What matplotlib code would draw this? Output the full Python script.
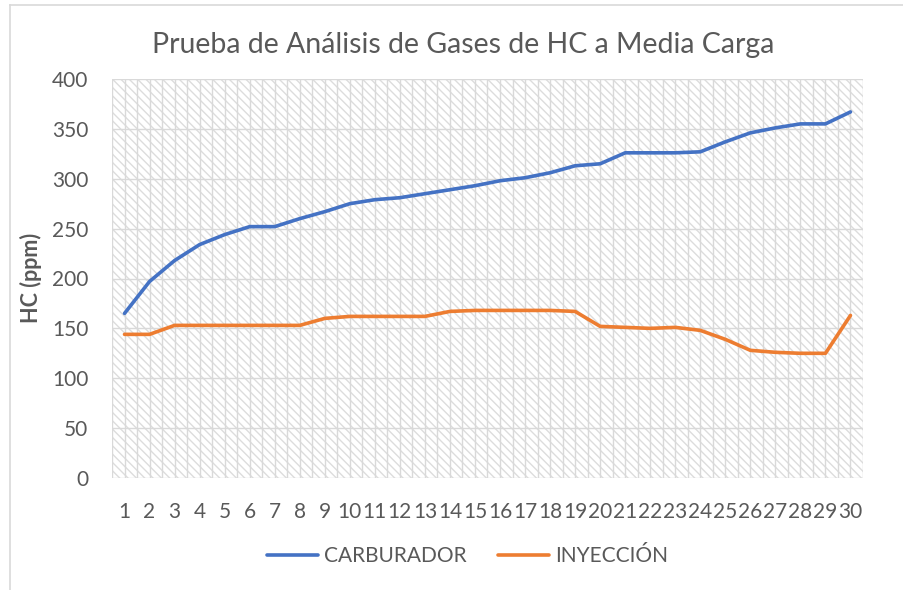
import matplotlib
matplotlib.use("Agg")
import matplotlib.pyplot as plt
from matplotlib.patches import Rectangle
from matplotlib.lines import Line2D

# ------------------ DATA ------------------
muestras = list(range(1, 31))
carburador = [165, 197, 218, 234, 244, 252, 252, 260, 267, 275,
              279, 281, 285, 289, 293, 298, 301, 306, 313, 315,
              326, 326, 326, 327, 337, 346, 351, 355, 355, 367]
inyeccion = [144, 144, 153, 153, 153, 153, 153, 153, 160, 162,
             162, 162, 162, 167, 168, 168, 168, 168, 167, 152,
             151, 150, 151, 148, 139, 128, 126, 125, 125, 163]
y_ticks = [0, 50, 100, 150, 200, 250, 300, 350, 400]

titulo = "Prueba de Análisis de Gases de HC a Media Carga"
etiqueta_y = "HC (ppm)"

# ------------------ CONFIG ------------------
plt.rcParams["font.family"] = ["Lato", "DejaVu Sans"]
plt.rcParams["hatch.linewidth"] = 1.0
plt.rcParams["hatch.color"] = "#dcdcdc"

GRIS_TXT = "#595959"
GRIS_GRID = "#d9d9d9"
AZUL = "#4472C4"
NARANJA = "#ED7D31"

fig = plt.figure(figsize=(9.04, 5.90), dpi=100)
ax = fig.add_axes([112 / 904, 1 - 478 / 590, 751 / 904, 399 / 590])

# hatched background like the Excel pattern fill
fondo = Rectangle((0, 0), 1, 1, transform=ax.transAxes, facecolor="white",
                  edgecolor="#dcdcdc", hatch="\\\\\\\\", linewidth=0, zorder=0)
ax.add_patch(fondo)

# grid
for yv in y_ticks:
    ax.axhline(yv, color=GRIS_GRID, linewidth=1.0, zorder=1)
for i in range(len(muestras) * 2 + 1):
    ax.axvline(0.5 + i * 0.5, color=GRIS_GRID, linewidth=1.0, zorder=1)

ax.plot(muestras, carburador, color=AZUL, linewidth=2.6, label="CARBURADOR",
        zorder=3, solid_capstyle="round", solid_joinstyle="round")
ax.plot(muestras, inyeccion, color=NARANJA, linewidth=2.6, label="INYECCIÓN",
        zorder=3, solid_capstyle="round", solid_joinstyle="round")

ax.set_xlim(0.5, len(muestras) + 0.5)
ax.set_ylim(0, 400)
ax.set_xticks(muestras)
ax.set_xticklabels([str(m) for m in muestras])
ax.set_yticks(y_ticks)
ax.tick_params(axis="both", length=0, labelsize=15, colors=GRIS_TXT)
ax.tick_params(axis="x", pad=17)
ax.tick_params(axis="y", pad=17)
for s in ax.spines.values():
    s.set_visible(False)

fig.text(31 / 904, 1 - 278 / 590, etiqueta_y, rotation=90, ha="center", va="center",
         fontsize=15.5, fontweight="bold", color=GRIS_TXT)

fig.text(463 / 904, 1 - 45 / 590, titulo, ha="center", va="center",
         fontsize=20.5, color=GRIS_TXT)

fig.legend(loc="center", bbox_to_anchor=(467.5 / 904, 1 - 556 / 590), ncol=2,
           frameon=False, fontsize=15, handlelength=2.45, handletextpad=0.3,
           columnspacing=1.5, labelcolor=GRIS_TXT)

# chart frame
fig.add_artist(Line2D([10 / 904, 10 / 904], [0, 1 - 5 / 590], transform=fig.transFigure,
                      color=GRIS_GRID, linewidth=1.2))
fig.add_artist(Line2D([10 / 904, 1], [1 - 5 / 590, 1 - 5 / 590], transform=fig.transFigure,
                      color=GRIS_GRID, linewidth=1.2))

fig.savefig("out.png", dpi=100)
